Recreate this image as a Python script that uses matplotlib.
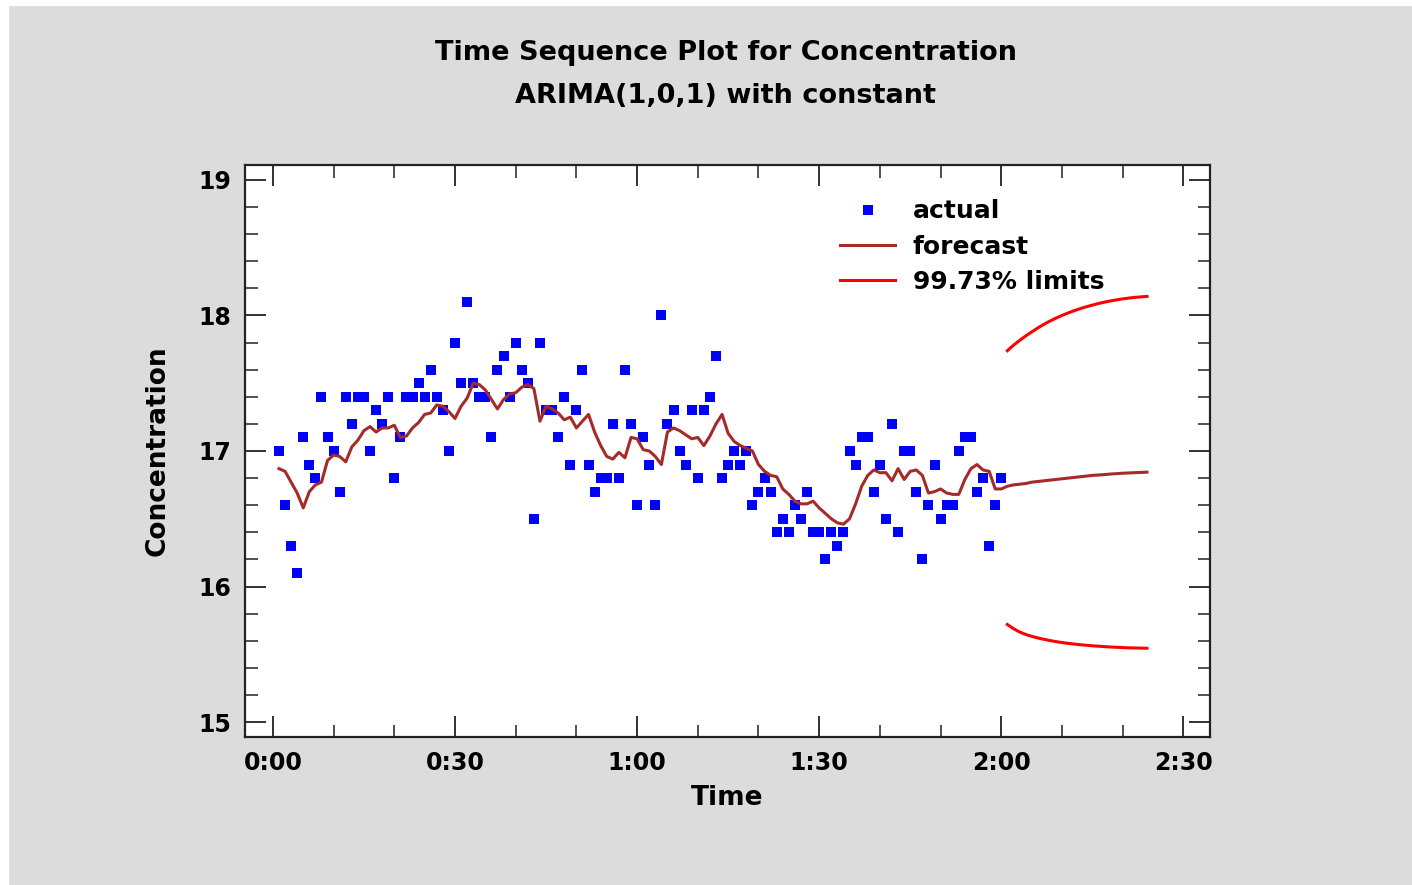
import matplotlib
matplotlib.use("Agg")
import matplotlib.pyplot as plt
from matplotlib.patches import Rectangle
from matplotlib.ticker import MultipleLocator, FuncFormatter

# observed concentration, one reading per minute (t = 1..120)
actual = [17.0, 16.6, 16.3, 16.1, 17.1, 16.9, 16.8, 17.4, 17.1, 17.0,
          16.7, 17.4, 17.2, 17.4, 17.4, 17.0, 17.3, 17.2, 17.4, 16.8,
          17.1, 17.4, 17.4, 17.5, 17.4, 17.6, 17.4, 17.3, 17.0, 17.8,
          17.5, 18.1, 17.5, 17.4, 17.4, 17.1, 17.6, 17.7, 17.4, 17.8,
          17.6, 17.5, 16.5, 17.8, 17.3, 17.3, 17.1, 17.4, 16.9, 17.3,
          17.6, 16.9, 16.7, 16.8, 16.8, 17.2, 16.8, 17.6, 17.2, 16.6,
          17.1, 16.9, 16.6, 18.0, 17.2, 17.3, 17.0, 16.9, 17.3, 16.8,
          17.3, 17.4, 17.7, 16.8, 16.9, 17.0, 16.9, 17.0, 16.6, 16.7,
          16.8, 16.7, 16.4, 16.5, 16.4, 16.6, 16.5, 16.7, 16.4, 16.4,
          16.2, 16.4, 16.3, 16.4, 17.0, 16.9, 17.1, 17.1, 16.7, 16.9,
          16.5, 17.2, 16.4, 17.0, 17.0, 16.7, 16.2, 16.6, 16.9, 16.5,
          16.6, 16.6, 17.0, 17.1, 17.1, 16.7, 16.8, 16.3, 16.6, 16.8]

# one-step-ahead forecasts (t = 1..120)
fitted = [16.87, 16.85, 16.77, 16.69, 16.58, 16.70, 16.75, 16.77, 16.93, 16.97,
          16.96, 16.92, 17.03, 17.08, 17.15, 17.18, 17.14, 17.17, 17.17, 17.19,
          17.10, 17.11, 17.17, 17.21, 17.27, 17.28, 17.34, 17.33, 17.29, 17.24,
          17.33, 17.39, 17.50, 17.49, 17.45, 17.38, 17.31, 17.38, 17.42, 17.43,
          17.47, 17.49, 17.46, 17.22, 17.33, 17.31, 17.28, 17.23, 17.25, 17.17,
          17.22, 17.27, 17.14, 17.04, 16.96, 16.94, 16.99, 16.95, 17.10, 17.09,
          17.01, 17.00, 16.96, 16.90, 17.14, 17.17, 17.15, 17.12, 17.09, 17.10,
          17.04, 17.11, 17.20, 17.27, 17.13, 17.07, 17.04, 17.02, 17.00, 16.90,
          16.85, 16.82, 16.81, 16.72, 16.68, 16.63, 16.61, 16.61, 16.63, 16.58,
          16.54, 16.50, 16.47, 16.46, 16.50, 16.61, 16.74, 16.82, 16.86, 16.84,
          16.84, 16.78, 16.87, 16.79, 16.85, 16.86, 16.82, 16.69, 16.70, 16.72,
          16.69, 16.68, 16.68, 16.79, 16.87, 16.90, 16.86, 16.85, 16.72, 16.72]

# forecasts beyond the data (t = 121..144) and 99.73% limits
forecast = [16.740, 16.750, 16.755, 16.760, 16.770, 16.775, 16.780, 16.785,
            16.790, 16.795, 16.800, 16.805, 16.810, 16.815, 16.820, 16.823,
            16.826, 16.830, 16.833, 16.836, 16.838, 16.840, 16.842, 16.844]
upper = [17.740, 17.780, 17.815, 17.848, 17.878, 17.907, 17.934, 17.958,
         17.980, 18.000, 18.018, 18.035, 18.050, 18.064, 18.076, 18.088,
         18.098, 18.107, 18.115, 18.122, 18.128, 18.133, 18.137, 18.140]
lower = [15.720, 15.690, 15.665, 15.647, 15.633, 15.621, 15.611, 15.602,
         15.594, 15.587, 15.581, 15.576, 15.571, 15.567, 15.563, 15.560,
         15.557, 15.554, 15.552, 15.550, 15.548, 15.547, 15.546, 15.545]

t_obs = list(range(1, len(actual) + 1))
t_fc = list(range(len(actual) + 1, len(actual) + 1 + len(forecast)))

bg = "#dcdcdc"
fig = plt.figure(figsize=(14.12, 8.85), dpi=100, facecolor=bg)
# thin white margin of the screenshot on the left and top
fig.patches.append(Rectangle((0, 0), 8 / 1412, 1, transform=fig.transFigure,
                             color="white", zorder=0))
fig.patches.append(Rectangle((0, 1 - 5 / 885), 1, 5 / 885, transform=fig.transFigure,
                             color="white", zorder=0))

ax = fig.add_axes([0.1735, 0.1672, 0.6835, 0.6464])
ax.set_facecolor("white")

ax.plot(t_obs, actual, "s", color="#0000ff", markersize=7, markeredgewidth=0,
        label="actual", zorder=3)
ax.plot(t_obs + t_fc, fitted + forecast, color="#a52a2a", lw=2.2,
        label="forecast", zorder=4)
ax.plot(t_fc, upper, color="#ff0000", lw=2.2, label="99.73% limits", zorder=4)
ax.plot(t_fc, lower, color="#ff0000", lw=2.2, zorder=4)

ax.set_xlim(-4.6, 154.4)
ax.set_ylim(14.89, 19.11)

ax.xaxis.set_major_locator(MultipleLocator(30))
ax.xaxis.set_minor_locator(MultipleLocator(10))
ax.yaxis.set_major_locator(MultipleLocator(1))
ax.yaxis.set_minor_locator(MultipleLocator(0.2))
ax.xaxis.set_major_formatter(FuncFormatter(lambda v, p: "%d:%02d" % (int(v) // 60, int(v) % 60)))
ax.yaxis.set_major_formatter(FuncFormatter(lambda v, p: "%d" % v))

ax.tick_params(which="both", direction="in", top=True, right=True, color="#222222")
ax.tick_params(which="major", length=15, width=1.3, labelsize=17, pad=10)
ax.tick_params(which="minor", length=9, width=1.1)
for lab in ax.get_xticklabels() + ax.get_yticklabels():
    lab.set_fontweight("bold")
for s in ax.spines.values():
    s.set_linewidth(1.6)
    s.set_color("#222222")

ax.set_xlabel("Time", fontsize=19, fontweight="bold", labelpad=7)
ax.set_ylabel("Concentration", fontsize=19, fontweight="bold", labelpad=20)

fig.text(0.514, 0.940, "Time Sequence Plot for Concentration", ha="center",
         va="center", fontsize=19.5, fontweight="bold")
fig.text(0.514, 0.8915, "ARIMA(1,0,1) with constant", ha="center",
         va="center", fontsize=19.5, fontweight="bold")

ax.legend(loc="upper left", bbox_to_anchor=(0.617, 0.94), frameon=False,
          prop={"size": 18, "weight": "bold"}, handlelength=2.2,
          handletextpad=0.7, labelspacing=0.45, borderpad=0, borderaxespad=0)

fig.savefig("out.png", dpi=100, facecolor=bg)
